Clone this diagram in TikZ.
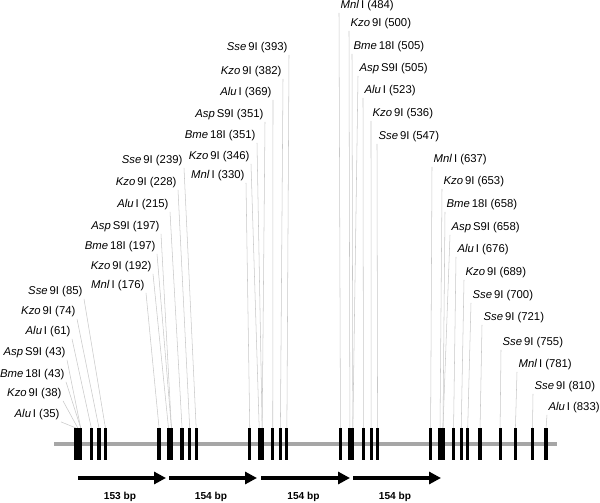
\documentclass[tikz,border=0pt]{standalone}
\usepackage{fontspec}
\setmainfont{Liberation Sans}
\usetikzlibrary{arrows.meta}
\definecolor{grisadn}{RGB}{166,166,166}
\definecolor{grisguia}{RGB}{200,200,200}
\tikzset{
  >={Triangle[length=9pt, width=9pt]},
  adn/.style={line width=3pt, grisadn},
  corte/.style={line width=2.4pt, black},
  guia/.style={line width=0.4pt, grisguia},
  etiq/.style={font=\fontsize{8.5}{10}\selectfont, inner sep=1pt},
  rep/.style={->, line width=2.4pt},
  bp/.style={font=\fontsize{7.6}{9}\selectfont\bfseries},
}

\begin{document}
\begin{tikzpicture}[x=0.75pt, y=-0.75pt]
  \useasboundingbox (0,0) rectangle (600,503);
  \draw[adn] (54,444) -- (557,444);
  % sitios de corte: enzima/sufijo/posicion/etiqueta x/etiqueta y/lado
  \foreach \enz/\suf/\p/\lx/\ly/\lado [count=\i] in {
      Alu/I/35/61/415/east, Kzo/9I/38/63/394/east, Bme/18I/43/66/375/east,
      Asp/S9I/43/67/353/east, Alu/I/61/72/332/east, Kzo/9I/74/77/312/east,
      Sse/9I/85/84/292/east,
      Mnl/I/176/146/286/east, Kzo/9I/192/153/267/east, Bme/18I/197/157/247/east,
      Asp/S9I/197/161/227/east, Alu/I/215/170/205/east, Kzo/9I/228/178/183/east,
      Sse/9I/239/184/161/east,
      Mnl/I/330/246/176/east, Kzo/9I/346/251/157/east, Bme/18I/351/257/136/east,
      Asp/S9I/351/265/115/east, Alu/I/369/273/93/east, Kzo/9I/382/283/72/east,
      Sse/9I/393/289/48/east,
      Mnl/I/484/339/6/west, Kzo/9I/500/349/24/west, Bme/18I/505/352/47/west,
      Asp/S9I/505/358/69/west, Alu/I/523/363/91/west, Kzo/9I/536/371/114/west,
      Sse/9I/547/377/137/west,
      Mnl/I/637/432/160/west, Kzo/9I/653/442/182/west, Bme/18I/658/445/205/west,
      Asp/S9I/658/450/228/west, Alu/I/676/456/250/west, Kzo/9I/689/464/273/west,
      Sse/9I/700/471/296/west, Sse/9I/721/482/318/west, Sse/9I/755/501/343/west,
      Mnl/I/781/517/365/west, Sse/9I/810/533/387/west, Alu/I/833/547/408/west%
  }{
    \coordinate (c\i) at ({55.4+0.589*\p},428);
    \node[etiq, anchor=\lado] (l\i) at (\lx,\ly) {\textit{\enz}\,\suf\ (\p)};
    \draw[guia] (l\i.south \lado) -- (c\i);
    \draw[corte] (c\i) -- ++(0,32);
  }
  % repeticiones
  \foreach \xa/\xb/\largo [count=\j] in {78/166/153, 169/257/154, 261/350/154, 353/441/154}{
    \coordinate (i\j) at (\xa,478);
    \coordinate (f\j) at (\xb,478);
    \draw[rep] (i\j) -- node[bp, yshift=-14.25pt, xshift=-1.5pt]{\largo\ bp} (f\j);
  }
\end{tikzpicture}
\end{document}
